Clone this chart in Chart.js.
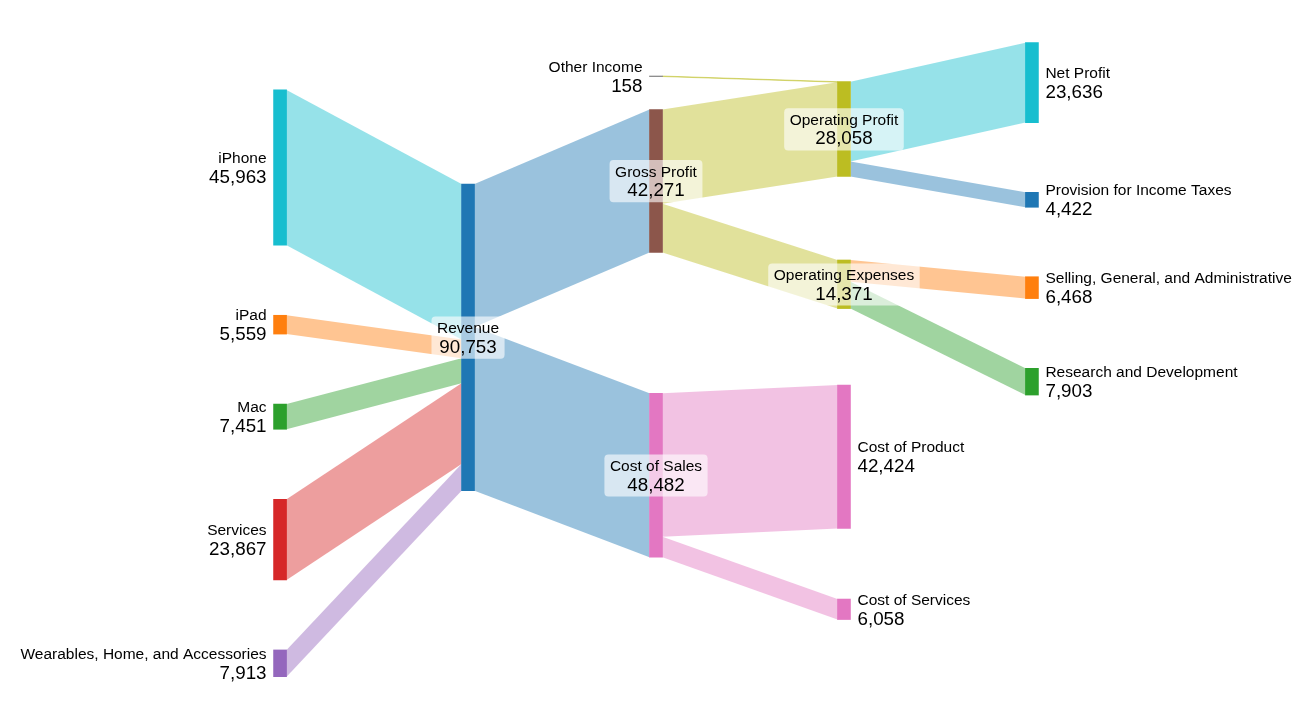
<!DOCTYPE html>
<html>
<head>
<meta charset="utf-8">
<script src="https://cdn.jsdelivr.net/npm/chart.js@4.4.1/dist/chart.umd.min.js"></script>
<style>
  html, body { margin: 0; padding: 0; background: #ffffff; }
  #wrap { width: 1312px; height: 721px; position: relative; }
</style>
</head>
<body>
<div id="wrap"><canvas id="chart"></canvas></div>
<script>
// ---------------- DATA ----------------
const nodeNames = [
  'iPhone', 'iPad', 'Mac', 'Services', 'Wearables, Home, and Accessories',
  'Revenue',
  'Other Income', 'Gross Profit', 'Cost of Sales',
  'Operating Profit', 'Operating Expenses', 'Cost of Product', 'Cost of Services',
  'Net Profit', 'Provision for Income Taxes', 'Selling, General, and Administrative', 'Research and Development'
];
const nodeColumns = [0, 0, 0, 0, 0, 1, 2, 2, 2, 3, 3, 3, 3, 4, 4, 4, 4];

const linkSources = [
  'iPhone', 'iPad', 'Mac', 'Services', 'Wearables, Home, and Accessories',
  'Revenue', 'Revenue',
  'Other Income', 'Gross Profit', 'Gross Profit',
  'Cost of Sales', 'Cost of Sales',
  'Operating Profit', 'Operating Profit',
  'Operating Expenses', 'Operating Expenses'
];
const linkTargets = [
  'Revenue', 'Revenue', 'Revenue', 'Revenue', 'Revenue',
  'Gross Profit', 'Cost of Sales',
  'Operating Profit', 'Operating Profit', 'Operating Expenses',
  'Cost of Product', 'Cost of Services',
  'Net Profit', 'Provision for Income Taxes',
  'Selling, General, and Administrative', 'Research and Development'
];
const linkValues = [
  45963, 5559, 7451, 23867, 7913,
  42271, 48482,
  158, 27900, 14371,
  42424, 6058,
  23636, 4422,
  6468, 7903
];

// ---------------- LAYOUT / STYLE ----------------
// vertical space left above each node inside its column (value units)
const nodeGapBefore = [
  26600, 20710, 20710, 20710, 20710,
  54440,
  22490, 9750, 41700,
  24170, 24690, 22610, 20900,
  12630, 20630, 20550, 20630
];
const nodeColors = [
  '#17becf', '#ff7f0e', '#2ca02c', '#d62728', '#9467bd',
  '#1f77b4',
  '#7f7f7f', '#8c564b', '#e377c2',
  '#bcbd22', '#bcbd22', '#e377c2', '#e377c2',
  '#17becf', '#1f77b4', '#ff7f0e', '#2ca02c'
];
const FLOW_ALPHA = 0.45;
const FONT = '"Liberation Sans", Arial, Helvetica, sans-serif';
const NAME_SIZE = 15.5;
const VALUE_SIZE = 18.8;

// ---------------- BUILD GRAPH ----------------
const idx = n => nodeNames.indexOf(n);
const links = linkValues.map((v, i) => ({ s: idx(linkSources[i]), t: idx(linkTargets[i]), value: v }));
const nodes = nodeNames.map((name, i) => ({ name, col: nodeColumns[i], out: [], inc: [] }));
links.forEach(l => { nodes[l.s].out.push(l); nodes[l.t].inc.push(l); });
nodes.forEach(n => {
  const a = n.out.reduce((p, l) => p + l.value, 0);
  const b = n.inc.reduce((p, l) => p + l.value, 0);
  n.value = Math.max(a, b);
});
// stack nodes inside their columns
const colCursor = {};
nodes.forEach((n, i) => {
  const c = colCursor[n.col] || 0;
  n.top = c + nodeGapBefore[i];
  colCursor[n.col] = n.top + n.value;
});
// order links at each node by the position of the other end
nodes.forEach(n => {
  n.out.sort((a, b) => nodes[a.t].top - nodes[b.t].top);
  n.inc.sort((a, b) => nodes[a.s].top - nodes[b.s].top);
  let y = n.top;
  n.out.forEach(l => { l.sy = y; y += l.value; });
  y = n.top;
  n.inc.forEach(l => { l.ty = y; y += l.value; });
});

function hexToRgba(hex, a) {
  const h = hex.replace('#', '');
  const r = parseInt(h.slice(0, 2), 16), g = parseInt(h.slice(2, 4), 16), b = parseInt(h.slice(4, 6), 16);
  return `rgba(${r},${g},${b},${a})`;
}
const fmt = v => v.toLocaleString('en-US');

// ---------------- PLUGIN: flows + labels ----------------
const sankeyPlugin = {
  id: 'sankeyDraw',
  beforeDatasetsDraw(chart) {
    const ctx = chart.ctx, ys = chart.scales.y;
    const bars = chart.getDatasetMeta(0).data;
    ctx.save();
    links.forEach(l => {
      const sb = bars[l.s], tb = bars[l.t];
      const x0 = sb.x + sb.width / 2, x1 = tb.x - tb.width / 2;
      const a0 = ys.getPixelForValue(l.sy), a1 = ys.getPixelForValue(l.sy + l.value);
      const b0 = ys.getPixelForValue(l.ty), b1 = ys.getPixelForValue(l.ty + l.value);
      // colour: outer stages take the colour of the node farther from the middle
      const colorNode = nodes[l.s].col <= 1 ? l.s : l.t;
      ctx.beginPath();
      ctx.moveTo(x0, a0);
      ctx.lineTo(x1, b0);
      ctx.lineTo(x1, b1);
      ctx.lineTo(x0, a1);
      ctx.closePath();
      ctx.fillStyle = hexToRgba(nodeColors[colorNode], FLOW_ALPHA);
      ctx.fill();
      if (Math.abs(a1 - a0) < 1) {
        ctx.strokeStyle = hexToRgba(nodeColors[colorNode], 0.6);
        ctx.lineWidth = 0.8;
        ctx.stroke();
      }
    });
    ctx.restore();
  },
  afterDatasetsDraw(chart) {
    const ctx = chart.ctx, ys = chart.scales.y;
    const bars = chart.getDatasetMeta(0).data;
    ctx.save();
    ctx.textBaseline = 'alphabetic';
    nodes.forEach((n, i) => {
      const b = bars[i];
      const yc = (ys.getPixelForValue(n.top) + ys.getPixelForValue(n.top + n.value)) / 2;
      const nameY = yc - 4.4, valY = yc + 15.3;
      const nameFont = `${NAME_SIZE}px ${FONT}`, valFont = `${VALUE_SIZE}px ${FONT}`;
      let x, align;
      if (n.inc.length === 0) { x = b.x - b.width / 2 - 7; align = 'right'; }
      else if (n.out.length === 0) { x = b.x + b.width / 2 + 7; align = 'left'; }
      else {
        x = b.x; align = 'center';
        ctx.font = nameFont; const w1 = ctx.measureText(n.name).width;
        ctx.font = valFont; const w2 = ctx.measureText(fmt(n.value)).width;
        const w = Math.max(w1, w2) + 11;
        const top = nameY - 16.5, h = (valY + 6) - top;
        ctx.beginPath();
        if (ctx.roundRect) ctx.roundRect(x - w / 2, top, w, h, 4);
        else ctx.rect(x - w / 2, top, w, h);
        ctx.fillStyle = 'rgba(255,255,255,0.62)';
        ctx.fill();
      }
      ctx.fillStyle = '#000000';
      ctx.textAlign = align;
      ctx.font = nameFont;
      ctx.fillText(n.name, x, nameY);
      ctx.font = valFont;
      ctx.fillText(fmt(n.value), x, valY);
    });
    ctx.restore();
  }
};

// ---------------- CHART ----------------
new Chart(document.getElementById('chart'), {
  type: 'bar',
  data: {
    datasets: [{
      data: nodes.map(n => ({ x: n.col, y: [n.top, n.top + n.value] })),
      backgroundColor: nodeColors,
      borderWidth: 0,
      barThickness: 13,
      grouped: false
    }]
  },
  options: {
    responsive: true,
    maintainAspectRatio: false,
    animation: false,
    layout: { padding: 0 },
    plugins: { legend: { display: false }, tooltip: { enabled: false } },
    scales: {
      x: { type: 'linear', min: -1.49, max: 5.49, offset: false, display: false },
      y: { type: 'linear', reverse: true, min: 0, max: 213300, display: false }
    }
  },
  plugins: [sankeyPlugin]
});
</script>
</body>
</html>
